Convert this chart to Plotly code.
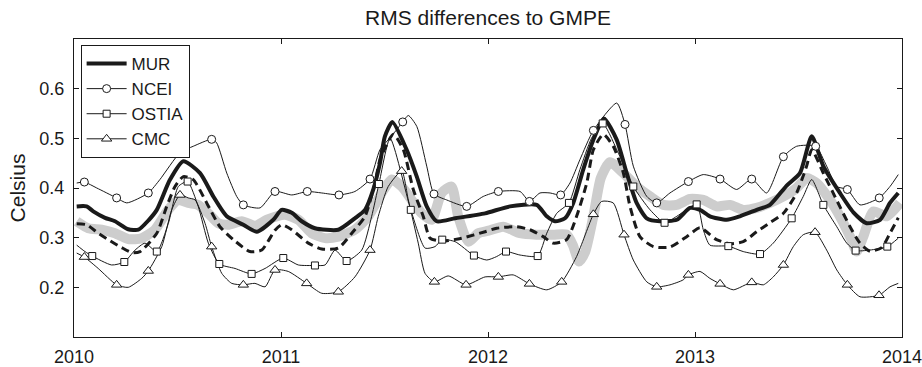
import plotly.graph_objects as go

# ---------------- data (decimal years, degrees C) ----------------
MUR_T = [2010.013, 2010.061, 2010.093, 2010.150, 2010.198, 2010.262, 2010.311, 2010.360, 2010.400, 2010.464,
         2010.528, 2010.609, 2010.673, 2010.738, 2010.818, 2010.883, 2010.963, 2011.003, 2011.052, 2011.100,
         2011.164, 2011.277, 2011.357, 2011.406, 2011.446, 2011.478, 2011.502, 2011.538, 2011.607, 2011.656,
         2011.704, 2011.752, 2011.841, 2011.986, 2012.106, 2012.235, 2012.284, 2012.324, 2012.372, 2012.412,
         2012.460, 2012.509, 2012.560, 2012.622, 2012.670, 2012.718, 2012.767, 2012.831, 2012.912, 2012.976,
         2013.024, 2013.072, 2013.153, 2013.217, 2013.298, 2013.362, 2013.443, 2013.507, 2013.564, 2013.620,
         2013.700, 2013.765, 2013.829, 2013.894, 2013.942, 2013.982]
MUR_V = [0.363, 0.363, 0.353, 0.340, 0.333, 0.317, 0.316, 0.335, 0.356, 0.417,
         0.454, 0.430, 0.383, 0.343, 0.326, 0.312, 0.336, 0.356, 0.350, 0.333,
         0.319, 0.316, 0.339, 0.356, 0.397, 0.450, 0.504, 0.533, 0.477, 0.423,
         0.363, 0.333, 0.339, 0.349, 0.363, 0.366, 0.343, 0.333, 0.339, 0.370,
         0.437, 0.497, 0.540, 0.497, 0.430, 0.370, 0.339, 0.333, 0.336, 0.360,
         0.356, 0.343, 0.336, 0.343, 0.356, 0.366, 0.405, 0.430, 0.504, 0.444,
         0.390, 0.351, 0.329, 0.336, 0.370, 0.390]

DASH_T = [2010.013, 2010.061, 2010.117, 2010.166, 2010.230, 2010.279, 2010.319, 2010.400, 2010.448, 2010.488,
          2010.528, 2010.576, 2010.641, 2010.705, 2010.770, 2010.850, 2010.907, 2010.971, 2011.003, 2011.052,
          2011.132, 2011.197, 2011.277, 2011.342, 2011.406, 2011.454, 2011.478, 2011.543, 2011.591, 2011.639,
          2011.687, 2011.720, 2011.776, 2011.873, 2011.986, 2012.042, 2012.139, 2012.203, 2012.267, 2012.315,
          2012.380, 2012.428, 2012.477, 2012.509, 2012.557, 2012.605, 2012.654, 2012.686, 2012.734, 2012.799,
          2012.879, 2012.960, 2013.024, 2013.104, 2013.169, 2013.233, 2013.298, 2013.362, 2013.427, 2013.491,
          2013.539, 2013.564, 2013.620, 2013.684, 2013.749, 2013.797, 2013.845, 2013.902, 2013.942, 2013.982]
DASH_V = [0.328, 0.326, 0.309, 0.296, 0.280, 0.270, 0.272, 0.309, 0.363, 0.403,
          0.423, 0.417, 0.370, 0.322, 0.296, 0.272, 0.275, 0.315, 0.326, 0.316,
          0.289, 0.277, 0.279, 0.309, 0.343, 0.410, 0.457, 0.508, 0.477, 0.397,
          0.343, 0.299, 0.293, 0.299, 0.312, 0.319, 0.322, 0.316, 0.302, 0.289,
          0.296, 0.343, 0.410, 0.477, 0.508, 0.484, 0.430, 0.363, 0.302, 0.282,
          0.281, 0.302, 0.320, 0.296, 0.288, 0.292, 0.312, 0.330, 0.349, 0.390,
          0.444, 0.477, 0.430, 0.376, 0.322, 0.289, 0.273, 0.280, 0.309, 0.340]

GRAY_T = [2010.013, 2010.069, 2010.134, 2010.198, 2010.262, 2010.327, 2010.391, 2010.455, 2010.504, 2010.552,
          2010.600, 2010.649, 2010.697, 2010.745, 2010.810, 2010.874, 2010.932, 2011.019, 2011.084, 2011.148,
          2011.213, 2011.277, 2011.357, 2011.422, 2011.486, 2011.535, 2011.583, 2011.631, 2011.680, 2011.728,
          2011.776, 2011.824, 2011.856, 2011.905, 2011.953, 2012.003, 2012.074, 2012.155, 2012.235, 2012.316,
          2012.380, 2012.410, 2012.440, 2012.470, 2012.509, 2012.545, 2012.589, 2012.654, 2012.718, 2012.783,
          2012.847, 2012.912, 2012.976, 2013.040, 2013.104, 2013.169, 2013.233, 2013.298, 2013.362, 2013.427,
          2013.491, 2013.539, 2013.588, 2013.652, 2013.700, 2013.749, 2013.781, 2013.813, 2013.862, 2013.926,
          2013.990]
GRAY_V = [0.333, 0.319, 0.316, 0.309, 0.297, 0.299, 0.316, 0.356, 0.376, 0.370,
          0.366, 0.349, 0.329, 0.326, 0.333, 0.324, 0.336, 0.346, 0.336, 0.309,
          0.299, 0.302, 0.316, 0.343, 0.390, 0.417, 0.403, 0.376, 0.349, 0.336,
          0.390, 0.403, 0.343, 0.292, 0.309, 0.314, 0.322, 0.309, 0.306, 0.306,
          0.306, 0.285, 0.252, 0.272, 0.343, 0.420, 0.452, 0.430, 0.403, 0.383,
          0.366, 0.366, 0.378, 0.376, 0.363, 0.366, 0.356, 0.360, 0.370, 0.383,
          0.400, 0.420, 0.410, 0.376, 0.343, 0.302, 0.272, 0.302, 0.353, 0.343,
          0.370]

NCEI_T = [2010.013, 2010.050, 2010.110, 2010.206, 2010.255, 2010.359, 2010.415, 2010.512, 2010.576, 2010.665,
          2010.689, 2010.738, 2010.786, 2010.818, 2010.899, 2010.971, 2011.052, 2011.127, 2011.197, 2011.280,
          2011.357, 2011.430, 2011.478, 2011.535, 2011.588, 2011.615, 2011.656, 2011.704, 2011.739, 2011.800,
          2011.897, 2011.977, 2012.050, 2012.155, 2012.200, 2012.251, 2012.300, 2012.351, 2012.396, 2012.444,
          2012.509, 2012.622, 2012.662, 2012.702, 2012.767, 2012.815, 2012.879, 2012.968, 2013.040, 2013.121,
          2013.201, 2013.274, 2013.346, 2013.427, 2013.491, 2013.583, 2013.636, 2013.685, 2013.736, 2013.797,
          2013.890, 2013.942, 2013.982]
NCEI_V = [0.410, 0.412, 0.400, 0.380, 0.370, 0.390, 0.417, 0.471, 0.484, 0.498,
          0.491, 0.430, 0.383, 0.366, 0.360, 0.393, 0.386, 0.393, 0.390, 0.386,
          0.393, 0.418, 0.477, 0.505, 0.533, 0.546, 0.524, 0.444, 0.388, 0.376,
          0.363, 0.383, 0.393, 0.393, 0.373, 0.390, 0.390, 0.386, 0.410, 0.457,
          0.516, 0.571, 0.528, 0.444, 0.383, 0.370, 0.390, 0.413, 0.427, 0.418,
          0.397, 0.418, 0.390, 0.463, 0.484, 0.484, 0.444, 0.403, 0.397, 0.366,
          0.380, 0.403, 0.427]
NCEI_MARK = [1, 3, 5, 7, 9, 13, 15, 17, 19, 21, 24, 28, 30, 32, 34, 37, 40, 42, 45, 47, 49, 51, 53, 55, 58, 60]

OSTIA_T = [2010.013, 2010.053, 2010.088, 2010.182, 2010.243, 2010.295, 2010.343, 2010.400, 2010.456, 2010.504,
           2010.549, 2010.600, 2010.649, 2010.702, 2010.778, 2010.858, 2010.923, 2011.011, 2011.084, 2011.164,
           2011.213, 2011.261, 2011.317, 2011.390, 2011.438, 2011.473, 2011.527, 2011.627, 2011.696, 2011.744,
           2011.779, 2011.841, 2011.932, 2011.994, 2012.042, 2012.087, 2012.155, 2012.240, 2012.284, 2012.332,
           2012.391, 2012.444, 2012.500, 2012.554, 2012.630, 2012.702, 2012.783, 2012.853, 2012.912, 2013.008,
           2013.040, 2013.072, 2013.161, 2013.233, 2013.314, 2013.378, 2013.467, 2013.523, 2013.564, 2013.620,
           2013.685, 2013.733, 2013.776, 2013.845, 2013.929, 2013.982]
OSTIA_V = [0.285, 0.272, 0.263, 0.245, 0.251, 0.275, 0.289, 0.272, 0.329, 0.403,
           0.413, 0.363, 0.289, 0.247, 0.238, 0.227, 0.238, 0.259, 0.245, 0.244,
           0.245, 0.275, 0.253, 0.275, 0.343, 0.408, 0.500, 0.356, 0.279, 0.282,
           0.296, 0.292, 0.264, 0.255, 0.262, 0.272, 0.265, 0.263, 0.309, 0.349,
           0.370, 0.437, 0.500, 0.530, 0.470, 0.403, 0.356, 0.330, 0.343, 0.367,
           0.316, 0.285, 0.283, 0.272, 0.267, 0.289, 0.339, 0.383, 0.417, 0.366,
           0.322, 0.289, 0.274, 0.275, 0.282, 0.299]
OSTIA_MARK = [2, 4, 7, 10, 13, 15, 17, 19, 22, 25, 27, 30, 32, 35, 37, 40, 43, 45, 47, 49, 52, 54, 56, 59, 62, 64]

CMC_T = [2010.013, 2010.050, 2010.117, 2010.206, 2010.262, 2010.327, 2010.359, 2010.424, 2010.472, 2010.512,
         2010.552, 2010.585, 2010.633, 2010.665, 2010.714, 2010.762, 2010.818, 2010.874, 2010.923, 2010.971,
         2011.035, 2011.124, 2011.197, 2011.277, 2011.357, 2011.430, 2011.470, 2011.518, 2011.583, 2011.615,
         2011.663, 2011.696, 2011.741, 2011.808, 2011.894, 2011.986, 2012.050, 2012.122, 2012.200, 2012.284,
         2012.356, 2012.428, 2012.509, 2012.549, 2012.605, 2012.657, 2012.702, 2012.767, 2012.815, 2012.879,
         2012.943, 2012.968, 2013.024, 2013.072, 2013.121, 2013.185, 2013.274, 2013.330, 2013.378, 2013.427,
         2013.475, 2013.523, 2013.580, 2013.636, 2013.685, 2013.736, 2013.797, 2013.889, 2013.942, 2013.982]
CMC_V = [0.269, 0.261, 0.238, 0.205, 0.200, 0.218, 0.233, 0.282, 0.356, 0.386,
         0.380, 0.376, 0.329, 0.282, 0.228, 0.208, 0.205, 0.208, 0.201, 0.235,
         0.232, 0.208, 0.188, 0.191, 0.221, 0.275, 0.343, 0.403, 0.434, 0.376,
         0.289, 0.228, 0.211, 0.223, 0.205, 0.221, 0.221, 0.225, 0.207, 0.195,
         0.211, 0.262, 0.347, 0.373, 0.370, 0.306, 0.255, 0.211, 0.201, 0.205,
         0.215, 0.225, 0.232, 0.218, 0.207, 0.195, 0.210, 0.205, 0.221, 0.245,
         0.282, 0.306, 0.311, 0.275, 0.235, 0.205, 0.181, 0.184, 0.201, 0.208]
CMC_MARK = [1, 3, 6, 9, 13, 16, 19, 21, 23, 25, 28, 32, 34, 36, 38, 40, 42, 45, 48, 51, 54, 56, 59, 62, 65, 67]

X_TICKS = [2010, 2011, 2012, 2013, 2014]
X_TICKTEXT = ["2010", "2011", "2012", "2013", "2014"]
Y_TICKS = [0.2, 0.3, 0.4, 0.5, 0.6]
Y_TICKTEXT = ["0.2", "0.3", "0.4", "0.5", "0.6"]

# ---------------- figure ----------------
FONT = "Liberation Sans, Arial, Helvetica, sans-serif"
INK = "#1a1a1a"
SMOOTH = 0.6

fig = go.Figure()

# gray band
fig.add_trace(go.Scatter(x=GRAY_T, y=GRAY_V, mode="lines", showlegend=False, hoverinfo="skip",
                         line=dict(color="#cdcdcd", width=10, shape="spline", smoothing=SMOOTH)))
# dashed
fig.add_trace(go.Scatter(x=DASH_T, y=DASH_V, mode="lines", showlegend=False, hoverinfo="skip",
                         line=dict(color=INK, width=3, dash="8px,5px", shape="spline", smoothing=SMOOTH)))
# MUR
fig.add_trace(go.Scatter(x=MUR_T, y=MUR_V, mode="lines", showlegend=False, hoverinfo="skip",
                         line=dict(color=INK, width=4, shape="spline", smoothing=SMOOTH)))

thin = [("NCEI", NCEI_T, NCEI_V, NCEI_MARK, "circle", 8),
        ("OSTIA", OSTIA_T, OSTIA_V, OSTIA_MARK, "square", 7),
        ("CMC", CMC_T, CMC_V, CMC_MARK, "triangle-up", 9)]

for name, t, v, mk, sym, sz in thin:
    fig.add_trace(go.Scatter(x=t, y=v, mode="lines", showlegend=False, hoverinfo="skip",
                             line=dict(color=INK, width=1, shape="spline", smoothing=SMOOTH)))
for name, t, v, mk, sym, sz in thin:
    fig.add_trace(go.Scatter(x=[t[i] for i in mk], y=[v[i] for i in mk], mode="markers",
                             showlegend=False, hoverinfo="skip",
                             marker=dict(symbol=sym, size=sz, color="white",
                                         line=dict(color=INK, width=1))))

# legend entries
fig.add_trace(go.Scatter(x=[None], y=[None], mode="lines", name="MUR",
                         line=dict(color=INK, width=4)))
for name, t, v, mk, sym, sz in thin:
    fig.add_trace(go.Scatter(x=[None], y=[None], mode="lines+markers", name=name,
                             line=dict(color=INK, width=1),
                             marker=dict(symbol=sym, size=sz, color="white",
                                         line=dict(color=INK, width=1))))

axis_common = dict(showline=True, linecolor=INK, linewidth=1, mirror="ticks", ticks="inside",
                   ticklen=5, tickcolor=INK, showgrid=False, zeroline=False, automargin=False,
                   ticklabeloverflow="allow",
                   tickfont=dict(family=FONT, size=18, color=INK))

fig.update_layout(
    width=922, height=367,
    margin=dict(l=74, r=20, t=39, b=30, autoexpand=False),
    paper_bgcolor="white", plot_bgcolor="white",
    font=dict(family=FONT, color=INK),
    title=dict(text="RMS differences to GMPE", x=0.5, xref="paper", xanchor="center",
               y=1 - 18 / 367, yref="container", yanchor="middle",
               font=dict(family=FONT, size=21, color=INK)),
    xaxis=dict(range=[2010, 2014], tickvals=X_TICKS, ticktext=X_TICKTEXT, ticklabelstandoff=3,
               **axis_common),
    yaxis=dict(range=[0.1, 0.7], tickvals=Y_TICKS, ticktext=Y_TICKTEXT, ticklabelstandoff=5,
               title=dict(text="Celsius", font=dict(family=FONT, size=21, color=INK), standoff=8),
               **axis_common),
    legend=dict(x=0.008, y=0.98, xanchor="left", yanchor="top", bgcolor="white",
                bordercolor=INK, borderwidth=1, font=dict(family=FONT, size=17, color=INK),
                tracegroupgap=0, itemwidth=40),
    showlegend=True,
)

fig.write_html("out.html")
